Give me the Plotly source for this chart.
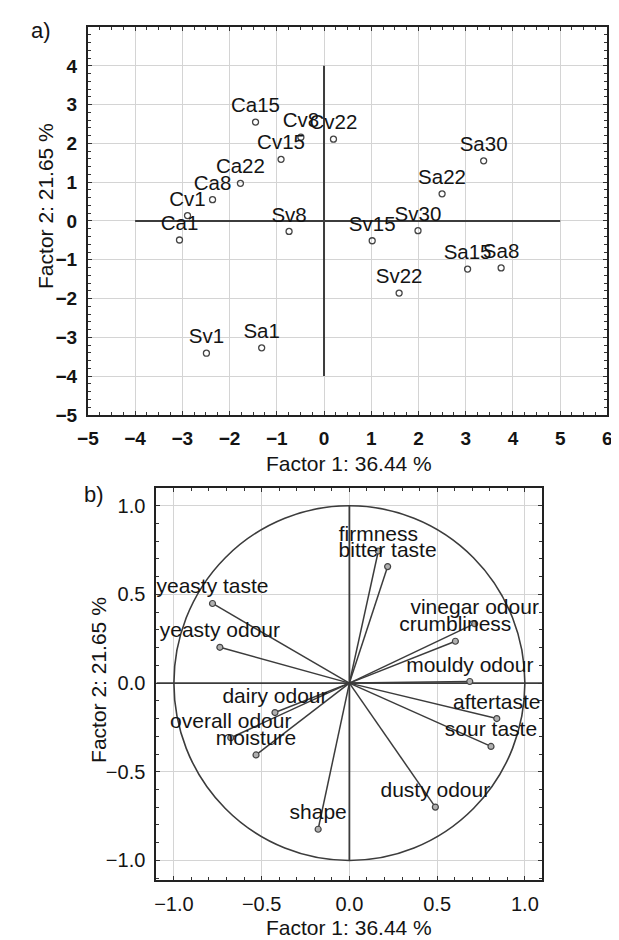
import plotly.graph_objects as go

# ---------------- data: plot a (scores) ----------------
samples = ["Ca1", "Ca8", "Ca15", "Ca22", "Cv1", "Cv8", "Cv15", "Cv22",
           "Sa1", "Sa8", "Sa15", "Sa22", "Sa30",
           "Sv1", "Sv8", "Sv15", "Sv22", "Sv30"]
factor1_scores = [-3.06, -2.36, -1.45, -1.77, -2.89, -0.49, -0.91, 0.20,
                  -1.32, 3.75, 3.04, 2.50, 3.38,
                  -2.49, -0.74, 1.02, 1.59, 1.99]
factor2_scores = [-0.49, 0.55, 2.55, 0.97, 0.14, 2.16, 1.59, 2.11,
                  -3.27, -1.21, -1.24, 0.70, 1.55,
                  -3.41, -0.27, -0.51, -1.86, -0.25]
ticks_a_x = [-5, -4, -3, -2, -1, 0, 1, 2, 3, 4, 5, 6]
ticks_a_y = [-5, -4, -3, -2, -1, 0, 1, 2, 3, 4]

# ---------------- data: plot b (loadings) ----------------
variables = ["firmness", "bitter taste", "yeasty taste", "yeasty odour",
             "vinegar odour", "crumbliness", "mouldy odour", "dairy odour",
             "overall odour", "moisture", "aftertaste", "sour taste",
             "dusty odour", "shape"]
factor1_load = [0.165, 0.218, -0.780, -0.738, 0.714, 0.604, 0.686, -0.424,
                -0.676, -0.532, 0.840, 0.807, 0.490, -0.178]
factor2_load = [0.745, 0.657, 0.449, 0.202, 0.335, 0.236, 0.009, -0.166,
                -0.308, -0.405, -0.200, -0.357, -0.699, -0.824]
ticks_b = [-1.0, -0.5, 0.0, 0.5, 1.0]

x_title = "Factor 1: 36.44 %"
y_title = "Factor 2: 21.65 %"

FONT = "Liberation Sans, Arial, Helvetica, sans-serif"
DARK = "#141414"
LINE = "#3c3c3c"
GRID = "#d4d4d4"

fig = go.Figure()

# plot a points
fig.add_trace(go.Scatter(
    x=factor1_scores, y=factor2_scores, mode="markers+text",
    text=samples, textposition="top center",
    textfont=dict(family=FONT, size=20.5, color=DARK),
    marker=dict(symbol="circle-open", size=6, color="#444444", line=dict(width=1.3)),
    xaxis="x", yaxis="y", showlegend=False, cliponaxis=False))

# plot b vectors from origin
vx, vy = [], []
for a, b in zip(factor1_load, factor2_load):
    vx += [0, a, None]
    vy += [0, b, None]
fig.add_trace(go.Scatter(
    x=vx, y=vy, mode="lines", line=dict(color=LINE, width=1.5),
    xaxis="x2", yaxis="y2", showlegend=False, hoverinfo="skip"))
fig.add_trace(go.Scatter(
    x=factor1_load, y=factor2_load, mode="markers+text",
    text=variables, textposition="top center",
    textfont=dict(family=FONT, size=21, color=DARK),
    marker=dict(symbol="circle", size=6, color="#b0b0b0",
                line=dict(color="#444444", width=1.2)),
    xaxis="x2", yaxis="y2", showlegend=False, cliponaxis=False))

W, H = 619, 940
def px(x):
    return x / W
def py(y):
    return 1 - y / H

common = dict(showgrid=True, gridcolor=GRID, gridwidth=1, zeroline=False,
              showline=True, linecolor="#222222", linewidth=2, mirror="allticks",
              ticks="inside", ticklen=4, tickcolor="#333333")

fig.update_layout(
    width=W, height=H, autosize=False,
    margin=dict(l=0, r=0, t=0, b=0),
    paper_bgcolor="white", plot_bgcolor="white",
    xaxis=dict(domain=[px(70.7), px(604)], range=[-5, 6], tickmode="array",
               tickvals=ticks_a_x, anchor="y",
               tickfont=dict(family=FONT, size=19, color=DARK, weight="bold"),
               ticklabelstandoff=5,
               minor=dict(ticks="inside", ticklen=3, dtick=0.25, tick0=0,
                          tickcolor="#333333", showgrid=False),
               **common),
    yaxis=dict(domain=[py(411.7), py(19.3)], range=[-5, 5], tickmode="array",
               tickvals=ticks_a_y, anchor="x",
               tickfont=dict(family=FONT, size=19, color=DARK, weight="bold"),
               ticklabelstandoff=5,
               minor=dict(ticks="inside", ticklen=3, dtick=0.2, tick0=0,
                          tickcolor="#333333", showgrid=False),
               **common),
    xaxis2=dict(domain=[px(141), px(537.3)], range=[-1.1, 1.1], tickmode="array",
                tickvals=ticks_b, tickformat=".1f", anchor="y2",
                tickfont=dict(family=FONT, size=20, color=DARK),
                ticklabelstandoff=5,
                minor=dict(ticks="inside", ticklen=3, dtick=0.1, tick0=0,
                           tickcolor="#333333", showgrid=False),
                **common),
    yaxis2=dict(domain=[py(882.3), py(485.7)], range=[-1.11, 1.1], tickmode="array",
                tickvals=ticks_b, tickformat=".1f", anchor="x2",
                tickfont=dict(family=FONT, size=20, color=DARK),
                ticklabelstandoff=5,
                minor=dict(ticks="inside", ticklen=3, dtick=0.1, tick0=0,
                           tickcolor="#333333", showgrid=False),
                **common),
    shapes=[
        # cross lines plot a
        dict(type="line", xref="x", yref="y", x0=-4, x1=5, y0=0, y1=0,
             line=dict(color=LINE, width=2), layer="between"),
        dict(type="line", xref="x", yref="y", x0=0, x1=0, y0=-4, y1=4,
             line=dict(color=LINE, width=2), layer="between"),
        # unit circle and cross lines plot b
        dict(type="circle", xref="x2", yref="y2", x0=-1, x1=1, y0=-1, y1=1,
             line=dict(color=LINE, width=1.6), layer="between"),
        dict(type="line", xref="x2", yref="y2", x0=-1.1, x1=1.1, y0=0, y1=0,
             line=dict(color=LINE, width=1.8), layer="between"),
        dict(type="line", xref="x2", yref="y2", x0=0, x1=0, y0=-1, y1=1,
             line=dict(color=LINE, width=1.8), layer="between"),
    ],
    annotations=[
        dict(text=x_title, x=px(339), y=py(461), xref="paper", yref="paper",
             showarrow=False, xanchor="center", yanchor="middle",
             font=dict(family=FONT, size=21, color=DARK)),
        dict(text=y_title, x=px(27), y=py(200), xref="paper", yref="paper",
             showarrow=False, xanchor="center", yanchor="middle", textangle=-90,
             font=dict(family=FONT, size=21, color=DARK)),
        dict(text=x_title, x=px(339), y=py(930), xref="paper", yref="paper",
             showarrow=False, xanchor="center", yanchor="middle",
             font=dict(family=FONT, size=21, color=DARK)),
        dict(text=y_title, x=px(81), y=py(680), xref="paper", yref="paper",
             showarrow=False, xanchor="center", yanchor="middle", textangle=-90,
             font=dict(family=FONT, size=21, color=DARK)),
        dict(text="a)", x=px(23), y=py(23), xref="paper", yref="paper",
             showarrow=False, xanchor="center", yanchor="middle",
             font=dict(family=FONT, size=22, color=DARK)),
        dict(text="b)", x=px(77), y=py(492), xref="paper", yref="paper",
             showarrow=False, xanchor="center", yanchor="middle",
             font=dict(family=FONT, size=22, color=DARK)),
    ],
)

fig.write_html("out.html")
